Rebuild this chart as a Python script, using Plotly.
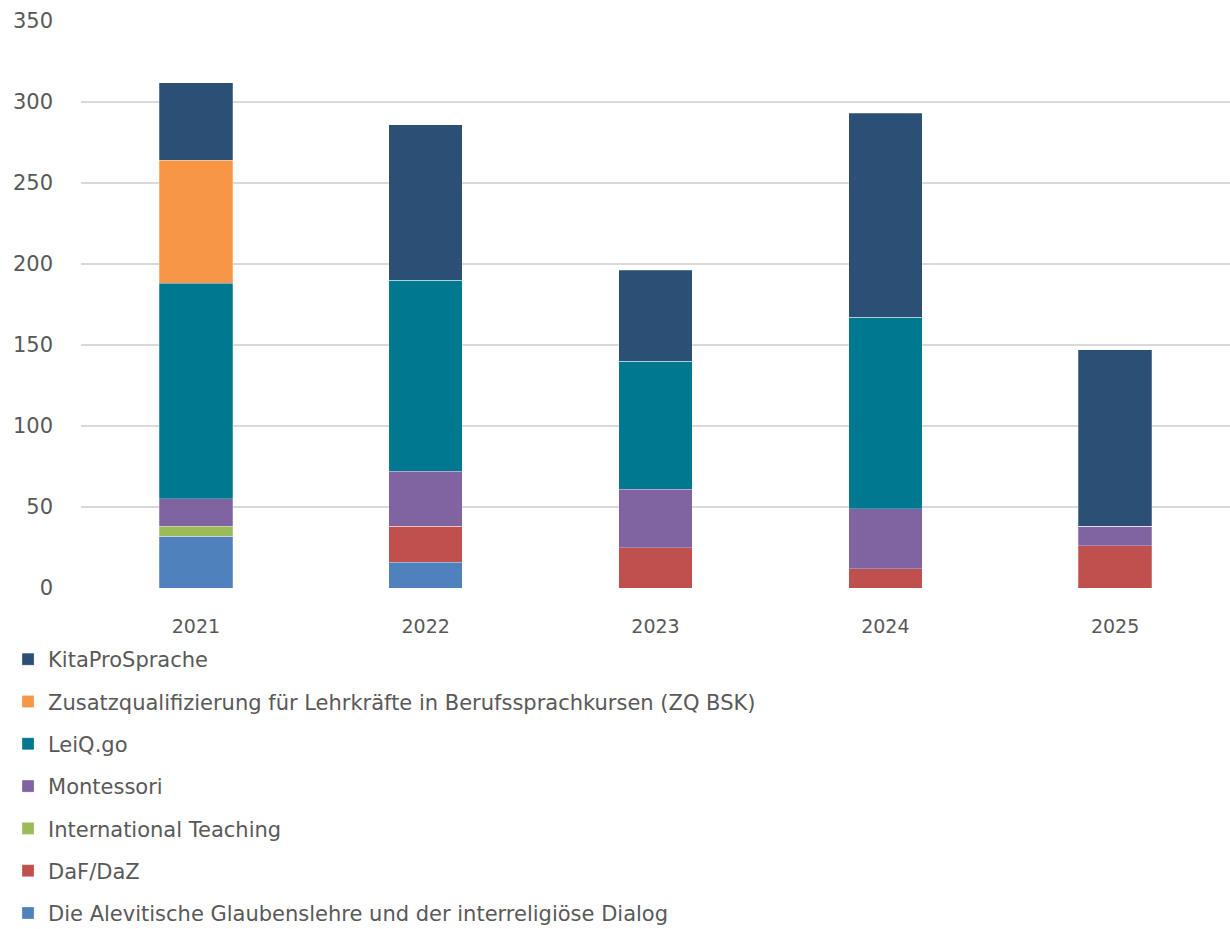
import plotly.graph_objects as go

years = ["2021", "2022", "2023", "2024", "2025"]
series_names = [
    "Die Alevitische Glaubenslehre und der interreligiöse Dialog",
    "DaF/DaZ",
    "International Teaching",
    "Montessori",
    "LeiQ.go",
    "Zusatzqualifizierung für Lehrkräfte in Berufssprachkursen (ZQ BSK)",
    "KitaProSprache",
]
alevit = [32, 16, 0, 0, 0]
dafdaz = [0, 22, 25, 12, 26]
intl = [6, 0, 0, 0, 0]
montessori = [17, 34, 36, 37, 12]
leiq = [133, 118, 79, 118, 0]
zqbsk = [76, 0, 0, 0, 0]
kita = [48, 96, 56, 126, 109]
values = [alevit, dafdaz, intl, montessori, leiq, zqbsk, kita]
colors = ["#4F81BD", "#C0504D", "#9BBB59", "#8064A2", "#00788F", "#F79646", "#2C4F76"]
y_ticks = [0, 50, 100, 150, 200, 250, 300, 350]

FONT = "DejaVu Sans"
fig = go.Figure()
n = len(series_names)
for i, (name, vals, col) in enumerate(zip(series_names, values, colors)):
    fig.add_trace(go.Bar(
        x=years, y=vals, name=name, legendgroup=name, legendrank=n - i,
        marker=dict(color=col, line=dict(color="rgba(255,255,255,0.3)", width=0.8)),
    ))

fig.update_layout(
    barmode="stack",
    bargap=0.68,
    width=1230, height=929,
    margin=dict(l=81, r=0, t=21, b=341, autoexpand=False),
    paper_bgcolor="white", plot_bgcolor="white",
    font=dict(family=FONT, size=20, color="#595959"),
    showlegend=True,
    legend=dict(
        orientation="v", traceorder="grouped", tracegroupgap=12,
        x=-0.0635, xanchor="left", y=-0.09, yanchor="top",
        font=dict(family=FONT, size=21, color="#595959"),
        itemwidth=30, bgcolor="rgba(0,0,0,0)",
    ),
    xaxis=dict(showgrid=False, showline=False, zeroline=False, ticks="",
               ticklabelstandoff=25, tickfont=dict(size=19)),
    yaxis=dict(range=[0, 350], tickvals=y_ticks, showgrid=True, gridcolor="#D9D9D9",
               gridwidth=1.5, zeroline=False, showline=False, ticks="",
               ticklabelstandoff=27, tickfont=dict(size=21)),
)

fig.write_html(
    "out.html",
    config={"displayModeBar": False},
    post_script="document.body.style.margin='0';document.body.style.overflow='hidden';",
)
